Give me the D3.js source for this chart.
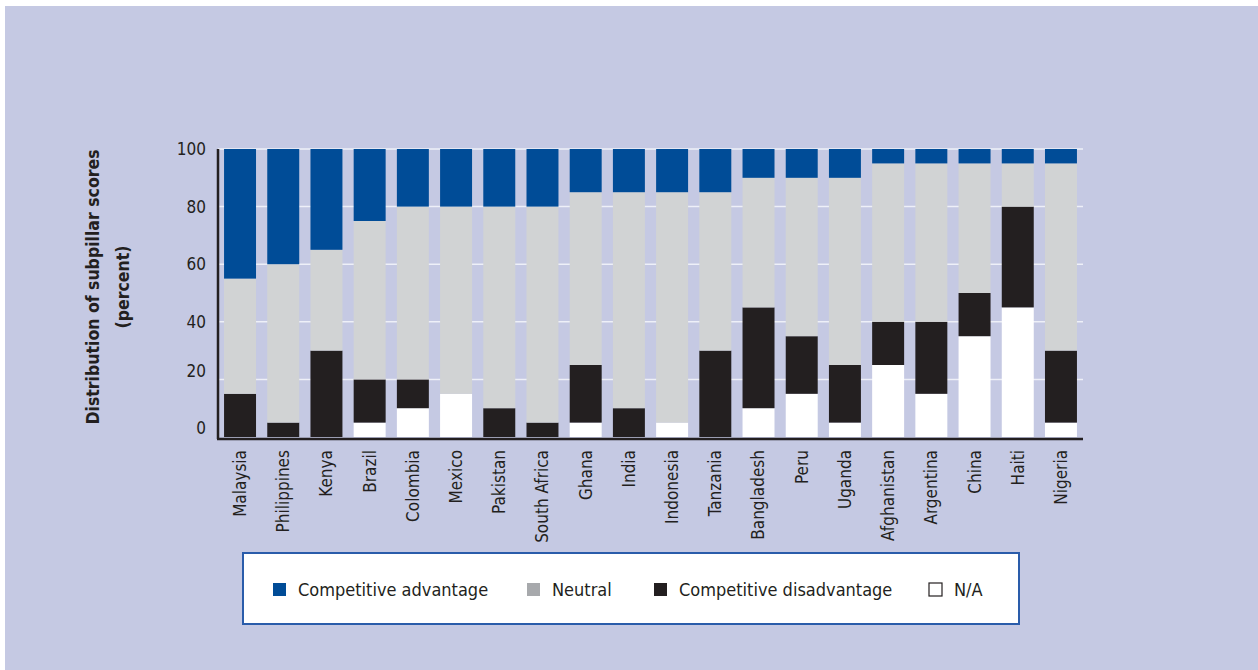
<!DOCTYPE html>
<html>
<head>
<meta charset="utf-8">
<script src="https://cdn.jsdelivr.net/npm/d3@7"></script>
<style>
  body { margin: 0; background: #fff; }
  svg text { font-family: "Liberation Sans Narrow", "DejaVu Sans Condensed", "Roboto", sans-serif; fill: #231f20; }
</style>
</head>
<body>
<div id="chart"></div>
<script>
// Countries, left to right
const countries = ['Malaysia', 'Philippines', 'Kenya', 'Brazil', 'Colombia', 'Mexico',
  'Pakistan', 'South Africa', 'Ghana', 'India', 'Indonesia', 'Tanzania', 'Bangladesh',
  'Peru', 'Uganda', 'Afghanistan', 'Argentina', 'China', 'Haiti', 'Nigeria'];

// Share of subpillar scores (percent), stacked from the bottom
const notAvailable = [0, 0, 0, 5, 10, 15, 0, 0, 5, 0, 5, 0, 10, 15, 5, 25, 15, 35, 45, 5];
const disadvantage = [15, 5, 30, 15, 10, 0, 10, 5, 20, 10, 0, 30, 35, 20, 20, 15, 25, 15, 35, 25];
const neutral = [40, 55, 35, 55, 60, 65, 70, 75, 60, 75, 80, 55, 45, 55, 65, 55, 55, 45, 15, 65];
const advantage = [45, 40, 35, 25, 20, 20, 20, 20, 15, 15, 15, 15, 10, 10, 10, 5, 5, 5, 5, 5];

const yTicks = [0, 20, 40, 60, 80, 100];

const seriesNames = ['N/A', 'Competitive disadvantage', 'Neutral', 'Competitive advantage'];
const seriesColors = ['#ffffff', '#231f20', '#d1d3d4', '#004c97'];
const legendOrder = ['Competitive advantage', 'Neutral', 'Competitive disadvantage', 'N/A'];
const legendColors = ['#004c97', '#a7a9ac', '#231f20', '#ffffff'];

const W = 1258, H = 670;
const svg = d3.select('#chart').append('svg').attr('width', W).attr('height', H);

// Background panel
svg.append('rect').attr('x', 5).attr('y', 6).attr('width', W - 5).attr('height', H - 6)
  .attr('fill', '#c5c9e3');

const margin = { left: 218, right: 175, top: 149, bottom: 233 };
const width = W - margin.left - margin.right;
const height = H - margin.top - margin.bottom;

const chart = svg.append('g').attr('transform', `translate(${margin.left}, ${margin.top})`);

const x = d3.scaleBand().domain(countries).range([0, width])
  .paddingInner(0.26).paddingOuter(0.14);
const y = d3.scaleLinear().domain([0, 100]).range([height, 0]);

// Gridlines
chart.append('g').selectAll('line').data(yTicks.filter(d => d > 0)).join('line')
  .attr('x1', 0).attr('x2', width)
  .attr('y1', d => y(d)).attr('y2', d => y(d))
  .attr('stroke', '#eef0f8').attr('stroke-width', 1.5);

// Build the stacked table
const table = countries.map((c, i) => ({
  country: c,
  'N/A': notAvailable[i],
  'Competitive disadvantage': disadvantage[i],
  'Neutral': neutral[i],
  'Competitive advantage': advantage[i],
}));
const stacked = d3.stack().keys(seriesNames)(table);

chart.append('g').selectAll('g').data(stacked).join('g')
  .attr('fill', (d, i) => seriesColors[i])
  .selectAll('rect').data(d => d).join('rect')
    .attr('x', d => x(d.data.country))
    .attr('width', x.bandwidth())
    .attr('y', d => y(d[1]))
    .attr('height', d => y(d[0]) - y(d[1]));

// Y axis
const yAxis = chart.append('g')
  .call(d3.axisLeft(y).tickValues(yTicks).tickSize(0).tickPadding(12));
yAxis.select('.domain').remove();
yAxis.selectAll('text').style('font-size', '17px').attr('dy', (d) => d < 30 ? '-0.2em' : '0.32em');

// Axis lines
chart.append('line').attr('x1', 0).attr('x2', 0).attr('y1', 0).attr('y2', height + 2)
  .attr('stroke', '#231f20').attr('stroke-width', 2.5);
chart.append('line').attr('x1', -1).attr('x2', width).attr('y1', height + 2).attr('y2', height + 2)
  .attr('stroke', '#231f20').attr('stroke-width', 2.5);

// X axis labels
const xAxis = chart.append('g').attr('transform', `translate(0, ${height + 2})`)
  .call(d3.axisBottom(x).tickSize(0).tickPadding(0));
xAxis.select('.domain').remove();
xAxis.selectAll('text')
  .style('font-size', '17px')
  .attr('text-anchor', 'end')
  .attr('transform', 'rotate(-90)')
  .attr('x', -11)
  .attr('y', 0)
  .attr('dy', '0.35em');

// Y axis title
const title = svg.append('text')
  .attr('transform', `translate(107, ${margin.top + height / 2 - 6}) rotate(-90)`)
  .attr('text-anchor', 'middle')
  .style('font-size', '17.5px')
  .style('font-weight', 'bold');
title.append('tspan').attr('x', 0).attr('dy', '-0.45em').text('Distribution of subpillar scores');
title.append('tspan').attr('x', 0).attr('dy', '1.7em').text('(percent)');

// Legend
const legend = svg.append('g').attr('transform', 'translate(243, 553)');
legend.append('rect').attr('width', 776).attr('height', 71)
  .attr('fill', '#ffffff').attr('stroke', '#2a5caa').attr('stroke-width', 2);

const legendX = [30, 284, 411, 686];
const items = legend.selectAll('g.item').data(legendOrder).join('g')
  .attr('class', 'item')
  .attr('transform', (d, i) => `translate(${legendX[i]}, 30)`);
items.append('rect')
  .attr('width', 13).attr('height', 13)
  .attr('fill', (d, i) => legendColors[i])
  .attr('stroke', (d, i) => i === 3 ? '#231f20' : 'none')
  .attr('stroke-width', 1.2);
items.append('text')
  .attr('x', 25).attr('y', 7).attr('dy', '0.35em')
  .style('font-size', '18px')
  .text(d => d);
</script>
</body>
</html>
